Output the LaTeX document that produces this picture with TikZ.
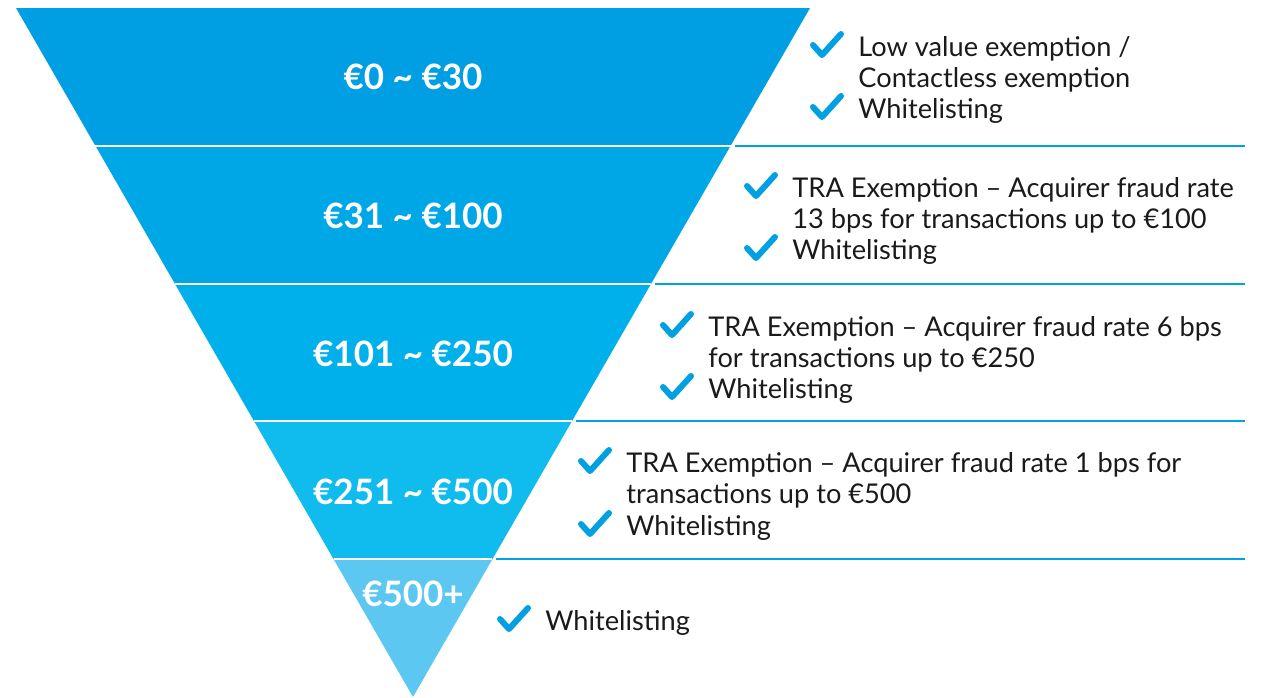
\documentclass[tikz,border=0pt]{standalone}
\usepackage{fontspec}
\setmainfont{Lato}
\usetikzlibrary{calc}

\definecolor{bandA}{HTML}{009FE3}
\definecolor{bandB}{HTML}{00A7E7}
\definecolor{bandC}{HTML}{00B0EB}
\definecolor{bandD}{HTML}{10BCEE}
\definecolor{bandE}{HTML}{5CC8F2}
\definecolor{ruleblue}{HTML}{00A3E0}
\definecolor{tickblue}{HTML}{00A0E3}
\definecolor{ink}{HTML}{1A1A1A}

\begin{document}
\begin{tikzpicture}[
        x=0.5pt, y=-0.5pt,
        every node/.style={font=\fontsize{13.6}{15.5}\selectfont, text=ink},
        band label/.style={font=\fontsize{17.5}{20}\selectfont\bfseries, text=white},
        item/.style={anchor=north west, inner sep=0pt, align=left},
        rule/.style={draw=ruleblue, line width=1pt},
        gap/.style={draw=white, line width=1pt},
        tick/.pic={\draw[tickblue, line width=3pt, line cap=round, line join=round]
            (-45,9) -- (-36,19) -- (-17,-2);}
    ]
        \useasboundingbox (0,0) rectangle (1263,697);

        % funnel outline and the four band boundaries
        \coordinate (tl) at (16,8);
        \coordinate (tr) at (810,8);
        \coordinate (apex) at (413,697);
        \coordinate (edge) at (1245,0);
        \foreach \i/\t in {1/0.2,2/0.4,3/0.6,4/0.8} {
            \coordinate (l\i) at ($(tl)!\t!(apex)$);
            \coordinate (r\i) at ($(tr)!\t!(apex)$);
        }

        \fill[bandA] (tl) -- (tr) -- (r1) -- (l1) -- cycle;
        \fill[bandB] (l1) -- (r1) -- (r2) -- (l2) -- cycle;
        \fill[bandC] (l2) -- (r2) -- (r3) -- (l3) -- cycle;
        \fill[bandD] (l3) -- (r3) -- (r4) -- (l4) -- cycle;
        \fill[bandE] (l4) -- (r4) -- (apex) -- cycle;

        \foreach \i in {1,...,4} {
            \draw[gap] (l\i) -- (r\i);
            \draw[rule] ([xshift=2pt]r\i) -- (r\i -| edge);
        }

        % amounts
        \node[band label] (b1) at (413,77) {€0 \textasciitilde{} €30};
        \node[band label] (b2) at (413,216) {€31 \textasciitilde{} €100};
        \node[band label] (b3) at (413,354) {€101 \textasciitilde{} €250};
        \node[band label] (b4) at (413,492) {€251 \textasciitilde{} €500};
        \node[band label] (b5) at (413,594) {€500+};

        % exemptions per band
        \node[item] (low) at (858,36) {Low value exemption /\\Contactless exemption};
        \node[item] (wl1) at (858,98) {Whitelisting};
        \node[item] (tra1) at (792,177) {TRA Exemption – Acquirer fraud rate\\13 bps for transactions up to €100};
        \node[item] (wl2) at (792,239) {Whitelisting};
        \node[item] (tra2) at (708,316) {TRA Exemption – Acquirer fraud rate 6 bps\\for transactions up to €250};
        \node[item] (wl3) at (708,378) {Whitelisting};
        \node[item] (tra3) at (626,452) {TRA Exemption – Acquirer fraud rate 1 bps for\\transactions up to €500};
        \node[item] (wl4) at (626,515) {Whitelisting};
        \node[item] (wl5) at (545,610) {Whitelisting};

        \foreach \n in {low,wl1,tra1,wl2,tra2,wl3,tra3,wl4,wl5}
            \pic at (\n.north west) {tick};
    \end{tikzpicture}
\end{document}
